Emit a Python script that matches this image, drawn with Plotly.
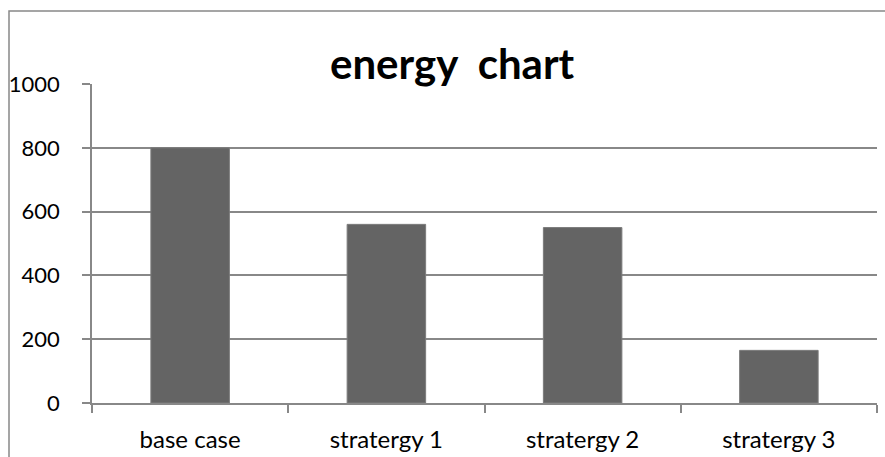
import plotly.graph_objects as go

categories = ["base case", "stratergy 1", "stratergy 2", "stratergy 3"]
values = [800, 560, 550, 165]
y_ticks = [0, 200, 400, 600, 800, 1000]

W, H = 885, 457
L, R, T, B = 92, 8, 84, 54
pw = W - L - R
ph = H - T - B

def px_x(x):
    return (x - L) / pw

def px_y(y):
    return (H - B - y) / ph

fig = go.Figure()
fig.add_trace(go.Bar(
    x=categories, y=values,
    marker=dict(color="#646464", line=dict(color="#7c7c7c", width=1)),
    width=0.4,
))

grid = "#888888"
fig.update_layout(
    width=W, height=H,
    margin=dict(l=L, r=R, t=T, b=B),
    paper_bgcolor="white", plot_bgcolor="white",
    showlegend=False,
    font=dict(family="Lato", color="black"),
    xaxis=dict(
        type="category", automargin=False,
        showline=True, linecolor=grid, linewidth=1.5,
        ticks="outside", tickson="boundaries", ticklen=8, tickwidth=1.5, tickcolor=grid,
        tickfont=dict(size=24, family="Lato", color="black"),
        showgrid=False,
        ticklabelstandoff=14,
    ),
    yaxis=dict(
        range=[0, 1000], tickvals=y_ticks, automargin=False,
        showline=True, linecolor=grid, linewidth=1.5,
        ticks="outside", ticklen=8, tickwidth=1.5, tickcolor=grid,
        showgrid=True, gridcolor=grid, gridwidth=1.5,
        zeroline=False,
        tickfont=dict(size=22, family="Lato", color="black"),
        ticklabelstandoff=18,
    ),
)

fig.add_annotation(
    text="<b>energy  chart</b>", xref="paper", yref="paper",
    x=px_x(452), y=px_y(90), xanchor="center", yanchor="bottom",
    showarrow=False, font=dict(size=42, family="Lato", color="black"),
)

fig.add_shape(
    type="rect", xref="paper", yref="paper",
    x0=px_x(9), x1=px_x(900), y0=px_y(470), y1=px_y(11),
    line=dict(color="#888888", width=1.5), fillcolor="rgba(0,0,0,0)",
    layer="below",
)

fig.write_html("out.html")
